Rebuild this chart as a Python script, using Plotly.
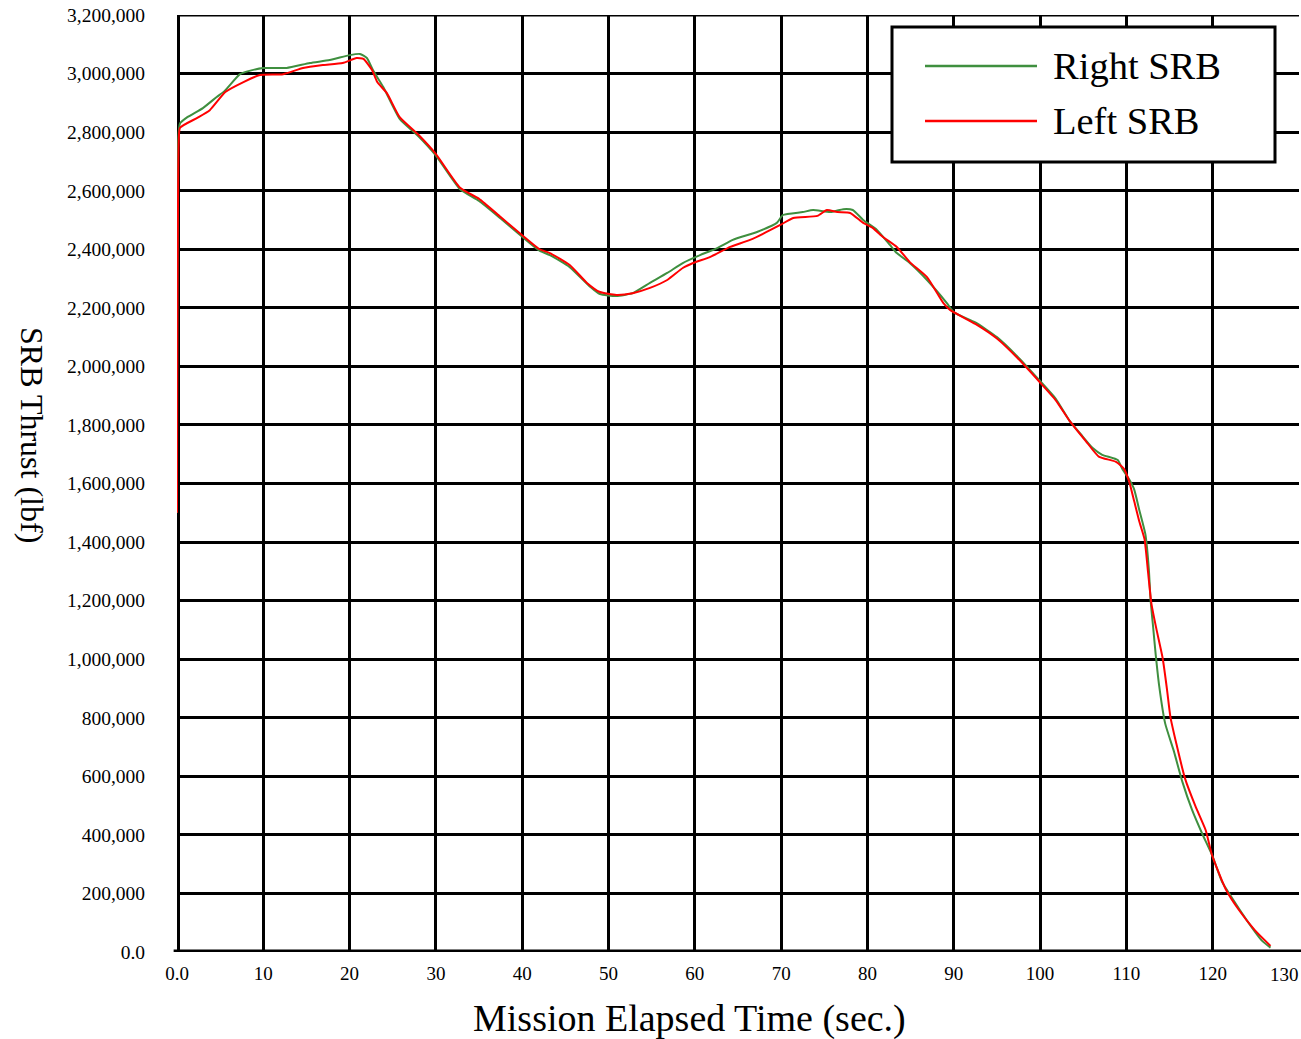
import plotly.graph_objects as go

# Mission elapsed time (s) and thrust (lbf) for each booster
right_t = [0.0, 0.15, 0.35, 1.2, 3.0, 4.6, 5.5, 7.3, 8.5, 10.0, 12.7, 15.4, 17.7, 20.0, 21.2,
           22.0, 22.7, 23.9, 25.8, 28.0, 30.0, 32.8, 35.0, 37.5, 40.1, 42.0, 43.2, 45.5, 47.9,
           49.0, 50.9, 52.8, 54.8, 56.8, 58.6, 60.6, 62.6, 64.4, 67.2, 69.5, 70.2, 72.5, 73.7,
           75.7, 77.2, 78.3, 79.5, 81.1, 82.6, 83.4, 84.9, 86.9, 89.2, 90.0, 92.5, 95.0, 97.5,
           100.0, 101.8, 103.4, 104.9, 106.1, 107.2, 109.0, 109.5, 110.3, 110.9, 111.5, 112.2,
           112.6, 112.8, 113.1, 113.4, 113.8, 114.5, 115.5, 116.5, 117.6, 118.8, 119.9, 121.1,
           122.6, 124.2, 125.7, 126.7]
right_thrust = [1500000, 2780000, 2830000, 2851000, 2882000, 2920000, 2940000, 2998000, 3010000,
                3019000, 3019000, 3036000, 3046000, 3063000, 3067000, 3053000, 3012000, 2954000,
                2845000, 2785000, 2720000, 2605000, 2565000, 2505000, 2440000, 2395000, 2380000,
                2339000, 2271000, 2247000, 2240000, 2250000, 2285000, 2319000, 2353000, 2380000,
                2404000, 2432000, 2459000, 2490000, 2517000, 2527000, 2534000, 2527000, 2537000,
                2534000, 2500000, 2466000, 2415000, 2387000, 2353000, 2295000, 2216000, 2185000,
                2150000, 2100000, 2030000, 1950000, 1890000, 1815000, 1762000, 1721000, 1698000,
                1680000, 1651000, 1615000, 1580000, 1509000, 1427000, 1309000, 1203000, 1109000,
                1015000, 909000, 780000, 686000, 580000, 486000, 403000, 333000, 239000, 168000,
                98000, 39000, 15000]

left_t = [0.0, 0.2, 0.35, 2.3, 3.8, 5.6, 7.7, 9.6, 12.3, 14.6, 16.9, 19.2, 20.8, 21.6, 22.6,
          23.2, 24.3, 25.8, 28.0, 30.0, 32.8, 35.0, 37.5, 40.1, 42.0, 43.2, 45.5, 47.5, 49.0,
          50.9, 52.8, 54.8, 56.8, 58.6, 59.8, 61.8, 64.1, 66.4, 69.9, 71.4, 74.2, 75.3, 76.5,
          78.0, 79.5, 80.6, 81.8, 83.4, 84.9, 86.9, 88.8, 89.6, 92.5, 95.0, 97.5, 100.0, 101.8,
          103.4, 105.3, 106.8, 108.8, 109.7, 110.3, 110.9, 111.5, 112.1, 112.5, 112.9, 113.5,
          114.2, 114.7, 115.1, 115.8, 116.8, 118.0, 119.2, 119.9, 121.5, 123.0, 124.9, 126.7]
left_thrust = [1500000, 2770000, 2815000, 2848000, 2875000, 2937000, 2971000, 2995000, 2998000,
               3019000, 3029000, 3036000, 3053000, 3050000, 3012000, 2971000, 2934000, 2851000,
               2790000, 2725000, 2610000, 2572000, 2510000, 2445000, 2400000, 2387000, 2346000,
               2285000, 2254000, 2244000, 2250000, 2268000, 2295000, 2336000, 2353000, 2374000,
               2408000, 2432000, 2483000, 2507000, 2514000, 2534000, 2527000, 2524000, 2490000,
               2473000, 2442000, 2408000, 2356000, 2305000, 2216000, 2192000, 2145000, 2095000,
               2025000, 1945000, 1885000, 1815000, 1745000, 1692000, 1674000, 1651000, 1609000,
               1540000, 1470000, 1410000, 1300000, 1190000, 1100000, 1004000, 898000, 803000,
               710000, 592000, 498000, 415000, 333000, 215000, 145000, 74000, 21000]

x_ticks = [0, 10, 20, 30, 40, 50, 60, 70, 80, 90, 100, 110, 120]
x_tick_text = ["0.0", "10", "20", "30", "40", "50", "60", "70", "80", "90", "100", "110", "120"]
y_ticks = list(range(0, 3200001, 200000))
y_tick_text = ["0.0"] + [f"{v:,}" for v in y_ticks[1:]]

series_names = ["Right SRB", "Left SRB"]
series_colors = ["#3f8f3f", "#ff0000"]

W, H = 1301, 1039
L, R, T, B = 177, 2, 15, 87
PW, PH = W - L - R, H - T - B


def px_x(p):
    return (p - L) / PW


def px_y(p):
    return (H - B - p) / PH


FONT = "Liberation Serif, Times New Roman, serif"

fig = go.Figure()
for t, v, name, color in [(right_t, right_thrust, series_names[0], series_colors[0]),
                          (left_t, left_thrust, series_names[1], series_colors[1])]:
    fig.add_trace(go.Scatter(x=t, y=v, mode="lines", name=name, showlegend=False,
                             line=dict(color=color, width=2, shape="spline", smoothing=0.5)))

shapes = [
    # heavy left and bottom axes, thin top border
    dict(type="line", xref="x", yref="y", x0=0, x1=0, y0=0, y1=3200000,
         line=dict(color="black", width=6), layer="between"),
    dict(type="line", xref="paper", yref="y", x0=-0.003, x1=1.01, y0=0, y1=0,
         line=dict(color="black", width=5), layer="between"),
    dict(type="line", xref="x", yref="y", x0=0, x1=131, y0=3200000, y1=3200000,
         line=dict(color="black", width=3), layer="between"),
    # legend box
    dict(type="rect", xref="paper", yref="paper", x0=px_x(892), x1=px_x(1275),
         y0=px_y(162), y1=px_y(27), fillcolor="white",
         line=dict(color="black", width=3), layer="above"),
]
annotations = []
for i, (name, color) in enumerate(zip(series_names, series_colors)):
    yy = 66 + 55 * i
    shapes.append(dict(type="line", xref="paper", yref="paper", x0=px_x(925), x1=px_x(1037),
                       y0=px_y(yy), y1=px_y(yy), line=dict(color=color, width=2.5),
                       layer="above"))
    annotations.append(dict(text=name, xref="paper", yref="paper", x=px_x(1051), y=px_y(yy),
                            xanchor="left", yanchor="middle", showarrow=False,
                            font=dict(family=FONT, size=38.5, color="black")))

annotations += [
    dict(text="130", xref="paper", yref="paper", x=px_x(1301), y=px_y(962),
         xanchor="right", yanchor="top", showarrow=False,
         font=dict(family=FONT, size=19, color="black")),
    dict(text="Mission Elapsed Time (sec.)", xref="paper", yref="paper", x=px_x(689),
         y=px_y(1018), xanchor="center", yanchor="middle", showarrow=False,
         font=dict(family=FONT, size=38, color="black")),
    dict(text="SRB Thrust (lbf)", xref="paper", yref="paper", x=px_x(32), y=px_y(435),
         xanchor="center", yanchor="middle", showarrow=False, textangle=90,
         font=dict(family=FONT, size=32, color="black")),
]

fig.update_layout(
    width=W, height=H,
    margin=dict(l=L, r=R, t=T, b=B, autoexpand=False),
    paper_bgcolor="white", plot_bgcolor="white",
    shapes=shapes, annotations=annotations, showlegend=False,
    xaxis=dict(range=[0, 130], tickvals=x_ticks, ticktext=x_tick_text,
               showgrid=True, gridcolor="black", gridwidth=3, zeroline=False,
               showline=False, ticks="", ticklabelstandoff=8, automargin=False,
               tickfont=dict(family=FONT, size=19, color="black")),
    yaxis=dict(range=[0, 3200000], tickvals=y_ticks, ticktext=y_tick_text,
               showgrid=True, gridcolor="black", gridwidth=3, zeroline=False,
               showline=False, ticks="", ticklabelstandoff=31, automargin=False,
               tickfont=dict(family=FONT, size=19.5, color="black")),
)

fig.write_html("out.html")
